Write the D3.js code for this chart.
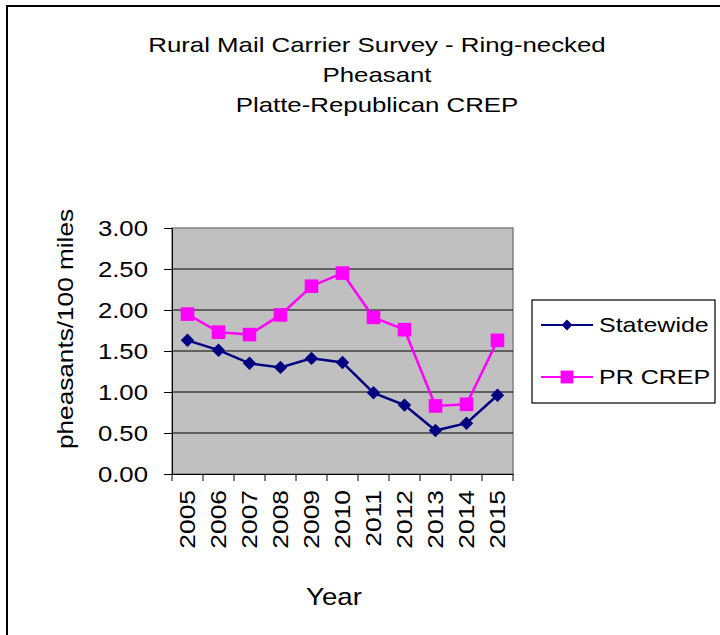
<!DOCTYPE html>
<html><head><meta charset="utf-8">
<script src="https://cdn.jsdelivr.net/npm/d3@7"></script>
<style>body{margin:0;background:#fff}svg{display:block}text{font-family:"Liberation Sans",Arial,sans-serif;fill:#000}</style>
</head><body><div id="c"></div>
<script>
const years = ["2005","2006","2007","2008","2009","2010","2011","2012","2013","2014","2015"];
const statewide = [1.63,1.51,1.35,1.30,1.41,1.36,0.99,0.84,0.53,0.62,0.96];
const prCrep = [1.95,1.73,1.70,1.94,2.29,2.45,1.91,1.76,0.83,0.85,1.63];
const yTicks = [0,0.5,1,1.5,2,2.5,3];
const titleLines = ["Rural Mail Carrier Survey - Ring-necked","Pheasant","Platte-Republican CREP"];

const W=720,H=635;
const svg=d3.select("#c").append("svg").attr("width",W).attr("height",H);
svg.append("rect").attr("width",W).attr("height",H).attr("fill","#fff");
svg.append("path").attr("d","M7,"+H+"V6H"+W).attr("fill","none").attr("stroke","#000").attr("stroke-width",2);

const L=172,R=513,T=228,B=474;
const x=d3.scaleBand().domain(years).range([L,R]);
const y=d3.scaleLinear().domain([0,3]).range([B,T]);

svg.append("rect").attr("x",L).attr("y",T).attr("width",R-L).attr("height",B-T).attr("fill","#C0C0C0").attr("stroke","#808080").attr("stroke-width",1.5);
svg.append("g").selectAll("line").data(yTicks.slice(1,-1)).join("line")
  .attr("x1",L).attr("x2",R).attr("y1",d=>y(d)).attr("y2",d=>y(d)).attr("stroke","#000").attr("stroke-width",1.2);

const ya=svg.append("g").attr("transform",`translate(${L},0)`)
  .call(d3.axisLeft(y).tickValues(yTicks).tickFormat(d3.format(".2f")).tickSize(8).tickSizeOuter(0).tickPadding(16));
ya.select(".domain").attr("stroke","#000");
ya.selectAll("line").attr("stroke","#000");
ya.selectAll("text").style("font-size","22px").attr("x",0).attr("dy","0.35em")
  .attr("transform","translate(-24,0) scale(1.17,1)");

const xa=svg.append("g").attr("transform",`translate(0,${B})`)
  .call(d3.axisBottom(x).tickSize(0).tickSizeOuter(0));
xa.select(".domain").attr("stroke","#000");
xa.selectAll("text").style("font-size","22px")
  .attr("transform","translate(0,16) rotate(-90) scale(1.2,1)").attr("text-anchor","end").attr("x",0).attr("y",0).attr("dy","0.35em");
const bounds=years.map(d=>x(d)).concat([R]);
svg.append("g").selectAll("line").data(bounds).join("line")
  .attr("x1",d=>d).attr("x2",d=>d).attr("y1",B).attr("y2",B+7).attr("stroke","#000");

const cx=d=>x(d)+x.bandwidth()/2;
const line=d3.line().x((d,i)=>cx(years[i])).y(d=>y(d));
svg.append("path").datum(prCrep).attr("d",line).attr("fill","none").attr("stroke","#FF00FF").attr("stroke-width",2.5);
svg.append("path").datum(statewide).attr("d",line).attr("fill","none").attr("stroke","#000080").attr("stroke-width",2.5);
const sq=d3.symbol().type(d3.symbolSquare).size(185);
const dm=d3.symbol().type(d3.symbolDiamond2).size(115);
svg.append("g").selectAll("path").data(prCrep).join("path")
  .attr("d",sq).attr("transform",(d,i)=>`translate(${cx(years[i])},${y(d)})`).attr("fill","#FF00FF");
svg.append("g").selectAll("path").data(statewide).join("path")
  .attr("d",dm).attr("transform",(d,i)=>`translate(${cx(years[i])},${y(d)})`).attr("fill","#000080");

svg.append("g").selectAll("text").data(titleLines).join("text")
  .attr("transform",(d,i)=>`translate(377,${52+i*30}) scale(1.23,1)`).attr("text-anchor","middle").style("font-size","21px").text(d=>d);
svg.append("text").attr("transform","translate(73,329) rotate(-90) scale(1.19,1)").attr("text-anchor","middle").style("font-size","22px").text("pheasants/100 miles");
svg.append("text").attr("transform","translate(334,605) scale(1.15,1)").attr("text-anchor","middle").style("font-size","24px").text("Year");

const lg=svg.append("g");
lg.append("rect").attr("x",532).attr("y",300).attr("width",183).attr("height",103).attr("fill","#fff").attr("stroke","#000").attr("stroke-width",1.2);
const items=[{n:"Statewide",c:"#000080",s:d3.symbol().type(d3.symbolDiamond2).size(75),yy:325},{n:"PR CREP",c:"#FF00FF",s:d3.symbol().type(d3.symbolSquare).size(165),yy:377}];
items.forEach(it=>{
  lg.append("line").attr("x1",541).attr("x2",593).attr("y1",it.yy).attr("y2",it.yy).attr("stroke",it.c).attr("stroke-width",2);
  lg.append("path").attr("d",it.s).attr("transform",`translate(567,${it.yy})`).attr("fill",it.c);
  lg.append("text").attr("transform",`translate(599,${it.yy}) scale(1.19,1)`).attr("dy","0.35em").style("font-size","21px").text(it.n);
});
</script></body></html>
